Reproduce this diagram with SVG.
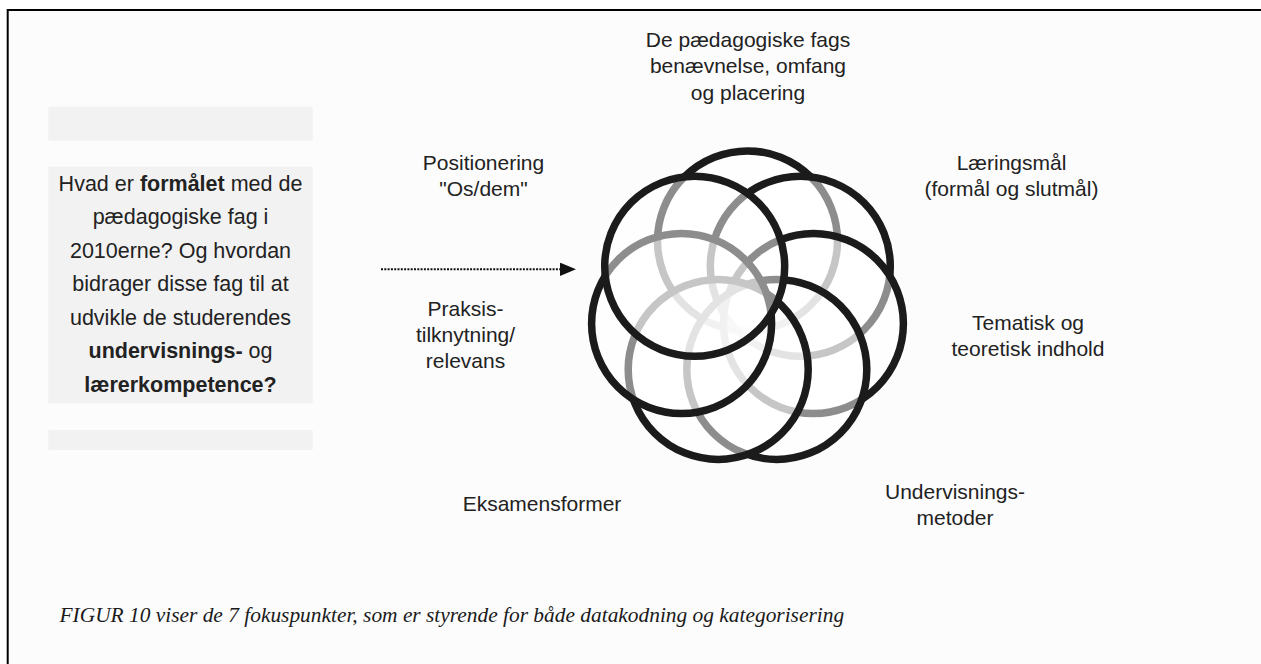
<svg xmlns="http://www.w3.org/2000/svg" width="1261" height="664" viewBox="0 0 1261 664">
  <style>
    .lbl { font-family: "Liberation Sans", Arial, sans-serif; font-size: 21px; fill: #222222; text-anchor: middle; }
    .box { font-family: "Liberation Sans", Arial, sans-serif; font-size: 21.5px; fill: #222222; text-anchor: middle; }
    .b { font-weight: bold; }
    .cap { font-family: "Liberation Serif", "Times New Roman", serif; font-size: 21.4px; font-style: italic; fill: #1a1a1a; }
    .ring { fill: #ffffff; fill-opacity: 0.5; stroke: #1b1b1b; stroke-width: 7.5; }
    .bar { fill: #f2f2f2; }
    .frame { stroke: #000000; stroke-width: 2; fill: none; }
    .conn { stroke: #111111; stroke-width: 2; stroke-dasharray: 2 1.3; fill: none; }
  </style>
  <defs>
    <marker id="arrow" markerWidth="16" markerHeight="14" refX="0" refY="6.7" orient="auto" markerUnits="userSpaceOnUse">
      <path d="M0,0 L16,6.7 L0,13.4 Z" fill="#111111"/>
    </marker>
  </defs>

  <rect x="0" y="0" width="1261" height="664" fill="#ffffff"/>
  <rect x="8" y="10" width="1253" height="654" fill="#fcfcfc"/>
  <g id="frame">
    <line class="frame" x1="7.7" y1="10" x2="1261" y2="10"/>
    <line class="frame" x1="7.7" y1="9" x2="7.7" y2="664"/>
  </g>

  <g id="question-box">
    <rect class="bar" x="48.3" y="106.7" width="264.4" height="34"/>
    <rect class="bar" x="48.3" y="166.7" width="264.4" height="236.6"/>
    <rect class="bar" x="48.3" y="430" width="264.4" height="20"/>
    <text class="box" x="180.5" y="190.5">Hvad er <tspan class="b">formålet</tspan> med de</text>
    <text class="box" x="180.5" y="224">pædagogiske fag i</text>
    <text class="box" x="180.5" y="257.5">2010erne? Og hvordan</text>
    <text class="box" x="180.5" y="291">bidrager disse fag til at</text>
    <text class="box" x="180.5" y="324.5">udvikle de studerendes</text>
    <text class="box" x="180.5" y="358"><tspan class="b">undervisnings-</tspan> og</text>
    <text class="box b" x="180.5" y="391.5">lærerkompetence?</text>
  </g>

  <g id="connectors">
    <line class="conn" x1="381" y1="269.3" x2="560" y2="269.3" marker-end="url(#arrow)"/>
  </g>

  <g id="rings">
    <circle id="ring-top" class="ring" cx="747.5" cy="240.9" r="90"/>
    <circle id="ring-upper-right" class="ring" cx="800.3" cy="266.3" r="90"/>
    <circle id="ring-right" class="ring" cx="813.4" cy="323.5" r="90"/>
    <circle id="ring-bottom-right" class="ring" cx="776.8" cy="369.4" r="90"/>
    <circle id="ring-bottom-left" class="ring" cx="718.2" cy="369.4" r="90"/>
    <circle id="ring-left" class="ring" cx="681.6" cy="323.5" r="90"/>
    <circle id="ring-upper-left" class="ring" cx="694.7" cy="266.3" r="90"/>
  </g>

  <g id="label-benaevnelse">
    <text class="lbl" x="748" y="46.5">De pædagogiske fags</text>
    <text class="lbl" x="748" y="73">benævnelse, omfang</text>
    <text class="lbl" x="748" y="99.5">og placering</text>
  </g>
  <g id="label-laeringsmaal">
    <text class="lbl" x="1011.5" y="170">Læringsmål</text>
    <text class="lbl" x="1011.5" y="195.5">(formål og slutmål)</text>
  </g>
  <g id="label-tematisk">
    <text class="lbl" x="1028" y="330">Tematisk og</text>
    <text class="lbl" x="1028" y="356">teoretisk indhold</text>
  </g>
  <g id="label-undervisningsmetoder">
    <text class="lbl" x="955" y="498.5">Undervisnings-</text>
    <text class="lbl" x="955" y="525">metoder</text>
  </g>
  <g id="label-eksamensformer">
    <text class="lbl" x="542" y="511">Eksamensformer</text>
  </g>
  <g id="label-praksis">
    <text class="lbl" x="465.5" y="316">Praksis-</text>
    <text class="lbl" x="465.5" y="342">tilknytning/</text>
    <text class="lbl" x="465.5" y="368">relevans</text>
  </g>
  <g id="label-positionering">
    <text class="lbl" x="483.5" y="170">Positionering</text>
    <text class="lbl" x="483.5" y="195.5">"Os/dem"</text>
  </g>

  <g id="caption">
    <text class="cap" x="59.5" y="621.5">FIGUR 10 viser de 7 fokuspunkter, som er styrende for både datakodning og kategorisering</text>
  </g>
</svg>
